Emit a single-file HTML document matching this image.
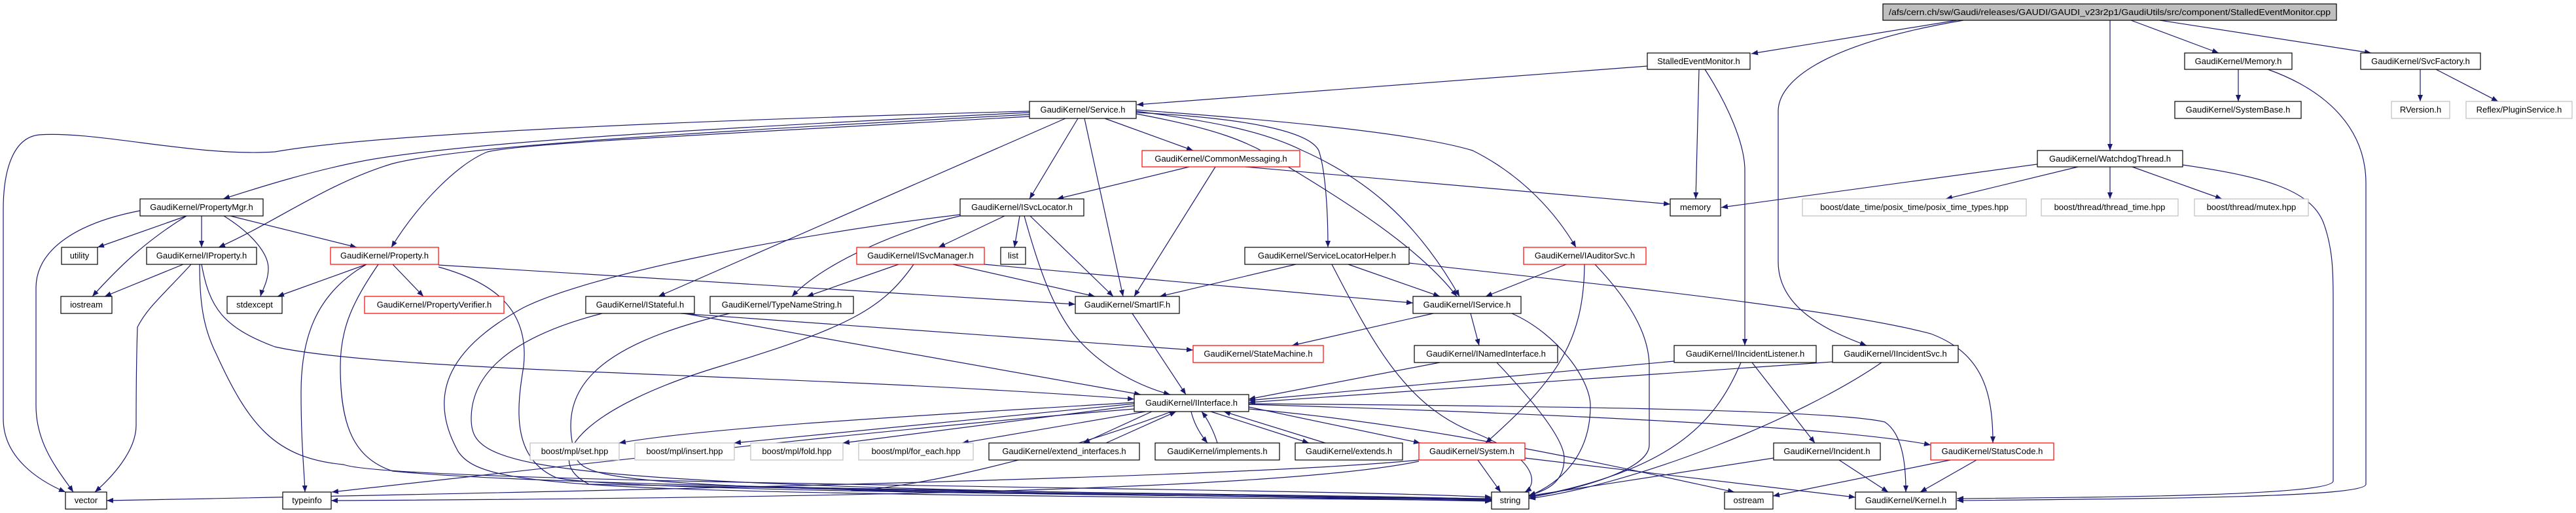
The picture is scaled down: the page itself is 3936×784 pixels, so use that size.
<!DOCTYPE html>
<html><head><meta charset="utf-8"><style>
html,body{margin:0;padding:0;background:#fff;}
svg{display:block;}
text{font-family:"Liberation Sans",sans-serif;font-size:13px;fill:#000;}
.e{fill:none;stroke:#191970;stroke-width:1.2;marker-end:url(#a);}
.b{fill:#fff;stroke:#000;stroke-width:1.2;}
.r{fill:#fff;stroke:#ff0000;stroke-width:1.2;}
.g{fill:#fff;stroke:#bfbfbf;stroke-width:1.2;}
</style></head><body>
<svg width="3936" height="784" viewBox="0 0 3936 784" xmlns="http://www.w3.org/2000/svg">
<defs><marker id="a" markerUnits="userSpaceOnUse" markerWidth="11" markerHeight="8" refX="10" refY="4" orient="auto"><path d="M0,0 L10,4 L0,8 z" fill="#191970"/></marker></defs>
<g>
<path class="e" d="M2990,31 L2676,82"/>
<path class="e" d="M3000,31 C2770,70 2717,130 2717,170 L2717,400 C2717,470 2790,505 2852,528"/>
<path class="e" d="M3224,31 L3224,230"/>
<path class="e" d="M3256,31 L3390,81"/>
<path class="e" d="M3300,31 L3623,81"/>
<path class="e" d="M2517,101 L1737,160"/>
<path class="e" d="M2596,106 L2591,304"/>
<path class="e" d="M2605,106 C2640,160 2666,220 2666,260 L2666,528"/>
<path class="e" d="M3420,106 L3420,155"/>
<path class="e" d="M3465,106 C3560,140 3615,200 3615,280 L3615,740 C3615,760 3300,762 2990,765"/>
<path class="e" d="M3698,106 L3698,155"/>
<path class="e" d="M3722,106 L3817,155"/>
<path class="e" d="M3120,250 L2630,317"/>
<path class="e" d="M3175,255 L2973,304"/>
<path class="e" d="M3224,255 L3224,304"/>
<path class="e" d="M3258,255 L3395,304"/>
<path class="e" d="M3335,252 C3460,270 3530,290 3550,340 C3565,380 3565,420 3565,460 L3565,735 C3565,758 3200,760 2990,762"/>
<path class="e" d="M1573,170 C1200,180 600,200 420,232 C300,240 150,200 60,206 C20,210 5,260 5,320 L5,640 C5,700 60,735 100,752"/>
<path class="e" d="M1573,172 C1000,200 700,220 560,245 C480,260 400,285 341,304"/>
<path class="e" d="M1573,175 C1000,205 700,225 600,250 C500,280 420,340 334,378"/>
<path class="e" d="M1573,178 C1000,210 800,220 745,232 C700,250 640,310 598,378"/>
<path class="e" d="M1628,181 L1006,453"/>
<path class="e" d="M1647,181 L1573,304"/>
<path class="e" d="M1657,181 L1716,453"/>
<path class="e" d="M1688,181 L1823,230"/>
<path class="e" d="M1736,172 C1900,180 2000,200 2015,230 C2025,260 2029,320 2029,378"/>
<path class="e" d="M1736,170 C1850,185 1930,200 1990,230 C2080,270 2160,330 2230,453"/>
<path class="e" d="M1736,174 C1850,195 1910,215 1960,250 C2060,310 2170,380 2226,453"/>
<path class="e" d="M1736,168 C1900,180 2150,200 2250,230 C2330,270 2380,330 2408,378"/>
<path class="e" d="M1817,255 L1615,304"/>
<path class="e" d="M1857,255 L1733,453"/>
<path class="e" d="M1903,255 L2552,312"/>
<path class="e" d="M1535,330 L1434,378"/>
<path class="e" d="M1558,330 L1550,378"/>
<path class="e" d="M1467,330 C1380,350 1260,400 1210,453"/>
<path class="e" d="M1574,330 L1701,453"/>
<path class="e" d="M1565,330 C1590,420 1610,470 1640,510 C1680,560 1740,590 1788,603"/>
<path class="e" d="M1467,328 C1200,360 900,420 800,470 C690,530 650,600 700,690 C740,750 900,752 2279,765"/>
<path class="e" d="M1373,404 L1233,453"/>
<path class="e" d="M1456,404 L1673,453"/>
<path class="e" d="M1504,404 L2159,463"/>
<path class="e" d="M1396,404 C1350,470 1300,500 1100,560 C900,620 820,700 900,740 L2279,766"/>
<path class="e" d="M1980,404 L1772,453"/>
<path class="e" d="M2060,404 L2200,453"/>
<path class="e" d="M2035,404 C2100,530 2150,620 2250,660 C2350,700 2350,740 2330,752"/>
<path class="e" d="M2153,402 C2400,430 2800,470 2950,510 C3030,540 3045,600 3045,677"/>
<path class="e" d="M2393,404 L2270,453"/>
<path class="e" d="M2421,404 C2420,520 2380,580 2270,677"/>
<path class="e" d="M2437,404 C2500,470 2520,520 2520,560 L2520,680 C2520,720 2400,750 2336,760"/>
<path class="e" d="M2190,479 L1974,528"/>
<path class="e" d="M2247,479 L2260,528"/>
<path class="e" d="M2310,479 C2380,510 2430,580 2430,620 C2430,700 2380,740 2336,758"/>
<path class="e" d="M1040,479 L1823,535"/>
<path class="e" d="M1045,479 L1743,603"/>
<path class="e" d="M920,479 C800,510 720,560 720,640 C720,720 800,745 2279,762"/>
<path class="e" d="M1115,479 C900,530 850,600 880,700 C900,740 1000,750 2279,763"/>
<path class="e" d="M1730,479 L1812,603"/>
<path class="e" d="M2200,554 L1908,610"/>
<path class="e" d="M2287,554 C2340,610 2390,670 2390,700 C2390,740 2360,750 2336,757"/>
<path class="e" d="M2558,552 L1908,612"/>
<path class="e" d="M2660,554 C2620,650 2550,720 2336,760"/>
<path class="e" d="M2677,554 L2773,677"/>
<path class="e" d="M2800,553 L1908,615"/>
<path class="e" d="M2875,554 C2750,640 2500,740 2336,762"/>
<path class="e" d="M1733,615 C1500,630 1100,650 946,677"/>
<path class="e" d="M1733,617 L1122,677"/>
<path class="e" d="M1733,620 L1288,677"/>
<path class="e" d="M1750,629 L1470,677"/>
<path class="e" d="M1760,629 L1655,677"/>
<path class="e" d="M1690,677 L1797,629"/>
<path class="e" d="M1820,629 C1825,650 1835,665 1845,677"/>
<path class="e" d="M1860,677 C1855,660 1845,640 1836,629"/>
<path class="e" d="M1850,629 L2000,677"/>
<path class="e" d="M2025,677 L1870,629"/>
<path class="e" d="M1908,622 L2170,677"/>
<path class="e" d="M1908,618 C2300,630 2800,650 2950,680"/>
<path class="e" d="M1908,617 C2300,620 2800,625 2880,645 C2910,665 2912,720 2912,752"/>
<path class="e" d="M1908,625 C2200,650 2500,720 2650,752"/>
<path class="e" d="M1733,625 C1300,660 800,720 507,752"/>
<path class="e" d="M1790,629 C1600,700 1400,745 1300,750 L2279,764"/>
<path class="e" d="M2258,703 L2293,752"/>
<path class="e" d="M2330,700 L2835,760"/>
<path class="e" d="M2168,703 C2000,720 1500,740 163,765"/>
<path class="e" d="M2168,705 C2000,740 1500,760 506,765"/>
<path class="e" d="M2710,700 L2336,758"/>
<path class="e" d="M2810,703 L2885,752"/>
<path class="e" d="M2980,703 L2709,758"/>
<path class="e" d="M3020,703 L2934,752"/>
<path class="e" d="M214,322 C120,340 55,380 55,440 L55,620 C55,680 90,720 112,752"/>
<path class="e" d="M285,330 L149,378"/>
<path class="e" d="M308,330 L308,378"/>
<path class="e" d="M285,330 C220,370 180,410 141,453"/>
<path class="e" d="M342,330 C390,360 410,390 410,410 C410,430 400,445 398,453"/>
<path class="e" d="M352,330 L545,378"/>
<path class="e" d="M280,404 L160,453"/>
<path class="e" d="M292,404 C250,450 225,470 210,500 C208,560 208,620 208,650 C208,690 170,730 145,752"/>
<path class="e" d="M305,404 C305,460 310,500 330,540 C380,650 420,700 525,710 C600,740 2000,745 2279,760"/>
<path class="e" d="M308,404 C320,470 340,500 420,530 C600,570 1200,570 1733,610"/>
<path class="e" d="M560,404 L424,453"/>
<path class="e" d="M600,404 L647,453"/>
<path class="e" d="M560,404 C480,450 460,520 460,600 C460,680 465,720 466,752"/>
<path class="e" d="M578,404 C540,460 520,500 520,560 C520,650 540,700 600,720 C900,750 2100,755 2279,763"/>
<path class="e" d="M670,408 C750,430 810,470 800,560 C790,620 780,700 850,730 C950,755 2100,758 2279,764"/>
<path class="e" d="M670,405 L1643,465"/>
</g>
<g>
<rect x="2877" y="6" width="693" height="25" fill="#bfbfbf" stroke="#000" stroke-width="1.2"/><text x="3223.5" y="23" text-anchor="middle" textLength="675" lengthAdjust="spacingAndGlyphs">/afs/cern.ch/sw/Gaudi/releases/GAUDI/GAUDI_v23r2p1/GaudiUtils/src/component/StalledEventMonitor.cpp</text>
<rect class="b" x="2517" y="81" width="157" height="25"/><text x="2595.5" y="98" text-anchor="middle">StalledEventMonitor.h</text>
<rect class="b" x="3338" y="81" width="164" height="25"/><text x="3420" y="98" text-anchor="middle">GaudiKernel/Memory.h</text>
<rect class="b" x="3607" y="81" width="183" height="25"/><text x="3698.5" y="98" text-anchor="middle">GaudiKernel/SvcFactory.h</text>
<rect class="b" x="1573" y="155" width="163" height="26"/><text x="1654.5" y="172" text-anchor="middle">GaudiKernel/Service.h</text>
<rect class="b" x="3323" y="155" width="193" height="26"/><text x="3419.5" y="172" text-anchor="middle">GaudiKernel/SystemBase.h</text>
<rect class="g" x="3654" y="155" width="89" height="26"/><text x="3698.5" y="172" text-anchor="middle">RVersion.h</text>
<rect class="g" x="3768" y="155" width="162" height="26"/><text x="3849" y="172" text-anchor="middle">Reflex/PluginService.h</text>
<rect class="r" x="1745" y="230" width="241" height="25"/><text x="1865.5" y="247" text-anchor="middle">GaudiKernel/CommonMessaging.h</text>
<rect class="b" x="3113" y="230" width="222" height="25"/><text x="3224" y="247" text-anchor="middle">GaudiKernel/WatchdogThread.h</text>
<rect class="b" x="214" y="304" width="188" height="26"/><text x="308" y="321" text-anchor="middle">GaudiKernel/PropertyMgr.h</text>
<rect class="b" x="1467" y="304" width="189" height="26"/><text x="1561.5" y="321" text-anchor="middle">GaudiKernel/ISvcLocator.h</text>
<rect class="b" x="2552" y="304" width="77" height="26"/><text x="2590.5" y="321" text-anchor="middle">memory</text>
<rect class="g" x="2754" y="304" width="342" height="26"/><text x="2925" y="321" text-anchor="middle">boost/date_time/posix_time/posix_time_types.hpp</text>
<rect class="g" x="3119" y="304" width="209" height="26"/><text x="3223.5" y="321" text-anchor="middle">boost/thread/thread_time.hpp</text>
<rect class="g" x="3353" y="304" width="174" height="26"/><text x="3440" y="321" text-anchor="middle">boost/thread/mutex.hpp</text>
<rect class="b" x="94" y="378" width="55" height="26"/><text x="121.5" y="395" text-anchor="middle">utility</text>
<rect class="b" x="224" y="378" width="168" height="26"/><text x="308" y="395" text-anchor="middle">GaudiKernel/IProperty.h</text>
<rect class="r" x="505" y="378" width="165" height="26"/><text x="587.5" y="395" text-anchor="middle">GaudiKernel/Property.h</text>
<rect class="r" x="1309" y="378" width="195" height="26"/><text x="1406.5" y="395" text-anchor="middle">GaudiKernel/ISvcManager.h</text>
<rect class="b" x="1529" y="378" width="38" height="26"/><text x="1548" y="395" text-anchor="middle">list</text>
<rect class="b" x="1902" y="378" width="251" height="26"/><text x="2027.5" y="395" text-anchor="middle">GaudiKernel/ServiceLocatorHelper.h</text>
<rect class="r" x="2328" y="378" width="187" height="26"/><text x="2421.5" y="395" text-anchor="middle">GaudiKernel/IAuditorSvc.h</text>
<rect class="b" x="93" y="453" width="78" height="26"/><text x="132" y="470" text-anchor="middle">iostream</text>
<rect class="b" x="347" y="453" width="84" height="26"/><text x="389" y="470" text-anchor="middle">stdexcept</text>
<rect class="r" x="557" y="453" width="213" height="26"/><text x="663.5" y="470" text-anchor="middle">GaudiKernel/PropertyVerifier.h</text>
<rect class="b" x="895" y="453" width="166" height="26"/><text x="978" y="470" text-anchor="middle">GaudiKernel/IStateful.h</text>
<rect class="b" x="1085" y="453" width="219" height="26"/><text x="1194.5" y="470" text-anchor="middle">GaudiKernel/TypeNameString.h</text>
<rect class="b" x="1643" y="453" width="159" height="26"/><text x="1722.5" y="470" text-anchor="middle">GaudiKernel/SmartIF.h</text>
<rect class="b" x="2159" y="453" width="165" height="26"/><text x="2241.5" y="470" text-anchor="middle">GaudiKernel/IService.h</text>
<rect class="r" x="1823" y="528" width="199" height="26"/><text x="1922.5" y="545" text-anchor="middle">GaudiKernel/StateMachine.h</text>
<rect class="b" x="2161" y="528" width="219" height="26"/><text x="2270.5" y="545" text-anchor="middle">GaudiKernel/INamedInterface.h</text>
<rect class="b" x="2558" y="528" width="217" height="26"/><text x="2666.5" y="545" text-anchor="middle">GaudiKernel/IIncidentListener.h</text>
<rect class="b" x="2800" y="528" width="192" height="26"/><text x="2896" y="545" text-anchor="middle">GaudiKernel/IIncidentSvc.h</text>
<rect class="b" x="1733" y="603" width="175" height="26"/><text x="1820.5" y="620" text-anchor="middle">GaudiKernel/IInterface.h</text>
<rect class="g" x="810" y="677" width="136" height="26"/><text x="878" y="694" text-anchor="middle">boost/mpl/set.hpp</text>
<rect class="g" x="970" y="677" width="152" height="26"/><text x="1046" y="694" text-anchor="middle">boost/mpl/insert.hpp</text>
<rect class="g" x="1147" y="677" width="141" height="26"/><text x="1217.5" y="694" text-anchor="middle">boost/mpl/fold.hpp</text>
<rect class="g" x="1312" y="677" width="175" height="26"/><text x="1399.5" y="694" text-anchor="middle">boost/mpl/for_each.hpp</text>
<rect class="b" x="1511" y="677" width="230" height="26"/><text x="1626" y="694" text-anchor="middle">GaudiKernel/extend_interfaces.h</text>
<rect class="b" x="1765" y="677" width="190" height="26"/><text x="1860" y="694" text-anchor="middle">GaudiKernel/implements.h</text>
<rect class="b" x="1979" y="677" width="164" height="26"/><text x="2061" y="694" text-anchor="middle">GaudiKernel/extends.h</text>
<rect class="r" x="2168" y="677" width="162" height="26"/><text x="2249" y="694" text-anchor="middle">GaudiKernel/System.h</text>
<rect class="b" x="2710" y="677" width="163" height="26"/><text x="2791.5" y="694" text-anchor="middle">GaudiKernel/Incident.h</text>
<rect class="r" x="2950" y="677" width="188" height="26"/><text x="3044" y="694" text-anchor="middle">GaudiKernel/StatusCode.h</text>
<rect class="b" x="100" y="752" width="63" height="26"/><text x="131.5" y="769" text-anchor="middle">vector</text>
<rect class="b" x="432" y="752" width="74" height="26"/><text x="469" y="769" text-anchor="middle">typeinfo</text>
<rect class="b" x="2279" y="752" width="57" height="26"/><text x="2307.5" y="769" text-anchor="middle">string</text>
<rect class="b" x="2635" y="752" width="74" height="26"/><text x="2672" y="769" text-anchor="middle">ostream</text>
<rect class="b" x="2835" y="752" width="154" height="26"/><text x="2912" y="769" text-anchor="middle">GaudiKernel/Kernel.h</text>
</g>
</svg>
</body></html>
